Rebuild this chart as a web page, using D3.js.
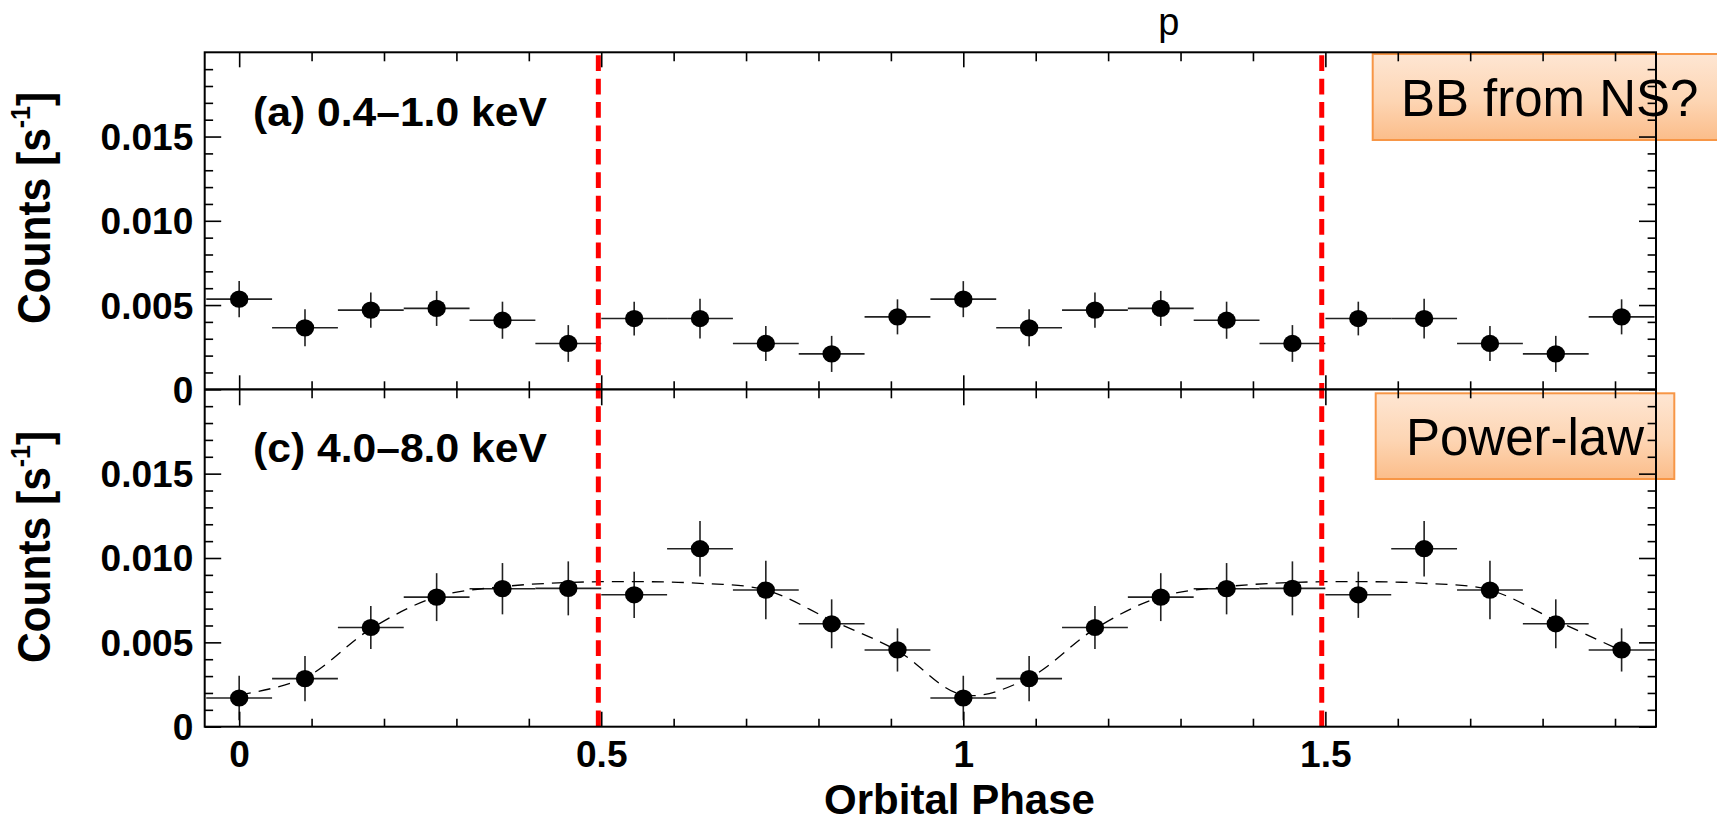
<!DOCTYPE html>
<html><head><meta charset="utf-8">
<script src="https://cdn.jsdelivr.net/npm/d3@7"></script>
<style>body{margin:0;background:#fff} svg{display:block}</style>
</head><body><svg id="c" width="1717" height="823"></svg>
<script>
// ---------------- data ----------------
const phases = [0, 0.0909, 0.1818, 0.2727, 0.3636, 0.4545, 0.5455, 0.6364, 0.7273, 0.8182, 0.9091,
                1.0, 1.0909, 1.1818, 1.2727, 1.3636, 1.4545, 1.5455, 1.6364, 1.7273, 1.8182, 1.9091];
const binHalfWidth = 0.04545;
const softRate = [0.00535, 0.00365, 0.0047, 0.0048, 0.0041, 0.00272, 0.0042, 0.0042, 0.00272, 0.0021, 0.0043,
                  0.00535, 0.00365, 0.0047, 0.0048, 0.0041, 0.00272, 0.0042, 0.0042, 0.00272, 0.0021, 0.0043];
const softErr  = [0.00107, 0.0011, 0.00104, 0.00104, 0.0011, 0.00109, 0.001, 0.00118, 0.00104, 0.00107, 0.00104,
                  0.00107, 0.0011, 0.00104, 0.00104, 0.0011, 0.00109, 0.001, 0.00118, 0.00104, 0.00107, 0.00104];
const hardRate = [0.0017, 0.00285, 0.00588, 0.00768, 0.00818, 0.0082, 0.00782, 0.01055, 0.0081, 0.0061, 0.00455,
                  0.0017, 0.00285, 0.00588, 0.00768, 0.00818, 0.0082, 0.00782, 0.01055, 0.0081, 0.0061, 0.00455];
const hardErr  = [0.00132, 0.00134, 0.00127, 0.00142, 0.00152, 0.0016, 0.00137, 0.00165, 0.00173, 0.00145, 0.00128,
                  0.00132, 0.00134, 0.00127, 0.00142, 0.00152, 0.0016, 0.00137, 0.00165, 0.00173, 0.00145, 0.00128];
const hardModel = [0.00188, 0.0029, 0.0058, 0.0077, 0.0083, 0.00855, 0.0086, 0.0085, 0.0081, 0.0063, 0.0045,
                   0.00188, 0.0029, 0.0058, 0.0077, 0.0083, 0.00855, 0.0086, 0.0085, 0.0081, 0.0063, 0.0045];
const markerPhases = [0.496, 1.495];
const yTickValues = [0, 0.005, 0.010, 0.015];
const yTickLabels = ["0", "0.005", "0.010", "0.015"];
const yMinorTicks = [0.001,0.002,0.003,0.004,0.006,0.007,0.008,0.009,0.011,0.012,0.013,0.014,0.016,0.017,0.018,0.019];
const xTickValues = [0, 0.5, 1, 1.5];
const xTickLabels = ["0", "0.5", "1", "1.5"];
const xMinorTicks = [0.1,0.2,0.3,0.4,0.6,0.7,0.8,0.9,1.1,1.2,1.3,1.4,1.6,1.7,1.8,1.9];
const panelLabels = ["(a) 0.4\u20131.0 keV", "(c) 4.0\u20138.0 keV"];
const boxLabels = ["BB from NS?", "Power-law"];
const xTitle = "Orbital Phase";
const topText = "p";

// ---------------- layout ----------------
const FONT = "'Liberation Sans', Arial, Helvetica, sans-serif";
const L = 204.7, R = 1656, T = 52.3, M = 389.3, B = 726.7;
const SX = 1.03; // slight horizontal stretch of tick labels

const svg = d3.select("#c");
const x = d3.scaleLinear().domain([-0.0476, 1.9566]).range([L, R]);
const yA = d3.scaleLinear().domain([0, 0.02]).range([M, T]);
const yC = d3.scaleLinear().domain([0, 0.02]).range([B, M]);

// gradient for annotation boxes
const defs = svg.append("defs");
const g = defs.append("linearGradient").attr("id", "boxg").attr("x1", 0).attr("y1", 0).attr("x2", 0).attr("y2", 1);
g.append("stop").attr("offset", "0%").attr("stop-color", "#fee6d3");
g.append("stop").attr("offset", "55%").attr("stop-color", "#fdd5b3");
g.append("stop").attr("offset", "100%").attr("stop-color", "#fbbd8a");

// annotation boxes (under the frame)
const boxes = [
  {x: 1372.7, y: 54, w: 354, h: 86, base: 116},
  {x: 1375.7, y: 393.3, w: 298.6, h: 85.7, base: 455}
];
boxes.forEach((b, i) => {
  svg.append("rect").attr("x", b.x).attr("y", b.y).attr("width", b.w).attr("height", b.h)
    .attr("fill", "url(#boxg)").attr("stroke", "#f79646").attr("stroke-width", 2);
  svg.append("text").attr("x", b.x + b.w / 2).attr("y", b.base).attr("text-anchor", "middle")
    .attr("font-family", FONT).attr("font-size", 51).attr("fill", "#000").text(boxLabels[i]);
});

// data panels
const panels = [
  {y: yA, rate: softRate, err: softErr},
  {y: yC, rate: hardRate, err: hardErr}
];
panels.forEach(p => {
  const gp = svg.append("g");
  phases.forEach((ph, i) => {
    gp.append("line").attr("x1", x(ph - binHalfWidth)).attr("x2", x(ph + binHalfWidth))
      .attr("y1", p.y(p.rate[i])).attr("y2", p.y(p.rate[i]))
      .attr("stroke", "#222").attr("stroke-width", 1.6);
    gp.append("line").attr("x1", x(ph)).attr("x2", x(ph))
      .attr("y1", p.y(p.rate[i] - p.err[i])).attr("y2", p.y(p.rate[i] + p.err[i]))
      .attr("stroke", "#222").attr("stroke-width", 1.6);
  });
  gp.selectAll("ellipse").data(phases).join("ellipse")
    .attr("cx", d => x(d)).attr("cy", (d, i) => p.y(p.rate[i]))
    .attr("rx", 9.2).attr("ry", 8.6).attr("fill", "#000");
});

// model curve in the hard band
const line = d3.line().x((d, i) => x(phases[i])).y(d => yC(d)).curve(d3.curveCatmullRom.alpha(0.5));
svg.append("path").attr("d", line(hardModel)).attr("fill", "none")
  .attr("stroke", "#000").attr("stroke-width", 1.3).attr("stroke-dasharray", "12,8");

// red dashed markers
markerPhases.forEach(m => {
  svg.append("line").attr("x1", x(m)).attr("x2", x(m)).attr("y1", T + 3).attr("y2", B + 3)
    .attr("stroke", "#ff0000").attr("stroke-width", 5).attr("stroke-dasharray", "15.7,7.7");
});

// axes
function addAxis(axisFn, scale, tx, ty, values, size, labels, pad) {
  const a = axisFn(scale).tickValues(values).tickSizeInner(-size).tickSizeOuter(0)
    .tickPadding(pad || 3).tickFormat(labels ? ((d, i) => labels[i]) : () => "");
  const ga = svg.append("g").attr("transform", `translate(${tx},${ty})`).call(a);
  ga.select(".domain").remove();
  ga.selectAll(".tick line").attr("stroke", "#000").attr("stroke-width", 1.6);
  ga.selectAll("text").attr("font-family", FONT).attr("font-weight", "bold")
    .attr("font-size", 36).attr("fill", "#000");
  return ga;
}
[yA, yC].forEach(ys => {
  const gl = addAxis(d3.axisLeft, ys, L, 0, yTickValues, 16.5, yTickLabels, 11.4);
  gl.selectAll("text").attr("x", -11.4 / SX).attr("dy", "0.36em").attr("transform", `scale(${SX},1)`);
  addAxis(d3.axisLeft, ys, L, 0, yMinorTicks, 8.4);
  addAxis(d3.axisRight, ys, R, 0, yTickValues, 17);
  addAxis(d3.axisRight, ys, R, 0, yMinorTicks, 8.4);
});
addAxis(d3.axisTop, x, 0, T, xTickValues, 15);
addAxis(d3.axisTop, x, 0, T, xMinorTicks, 9);
addAxis(d3.axisBottom, x, 0, M, xTickValues, 14);
addAxis(d3.axisBottom, x, 0, M, xMinorTicks, 8);
addAxis(d3.axisTop, x, 0, M, xTickValues, 16);
addAxis(d3.axisTop, x, 0, M, xMinorTicks, 9);
const gb = addAxis(d3.axisBottom, x, 0, B, xTickValues, 15, xTickLabels, 14.8);
gb.selectAll("text").attr("transform", `scale(${SX},1)`);
addAxis(d3.axisBottom, x, 0, B, xMinorTicks, 8);

// frame
svg.append("rect").attr("x", L).attr("y", T).attr("width", R - L).attr("height", B - T)
  .attr("fill", "none").attr("stroke", "#000").attr("stroke-width", 2);
svg.append("line").attr("x1", L).attr("x2", R).attr("y1", M).attr("y2", M)
  .attr("stroke", "#000").attr("stroke-width", 2.2);

// panel labels
[[253, 126], [253, 462]].forEach((pos, i) => {
  svg.append("text").attr("transform", `translate(${pos[0]},${pos[1]}) scale(1.04,1)`)
    .attr("font-family", FONT).attr("font-weight", "bold").attr("font-size", 41).attr("fill", "#000")
    .text(panelLabels[i]);
});

// y titles
[208, 547].forEach(cy => {
  const t = svg.append("text").attr("transform", `translate(50,${cy}) rotate(-90) scale(1,1.1)`)
    .attr("text-anchor", "middle").attr("font-family", FONT).attr("font-weight", "bold")
    .attr("font-size", 42.5).attr("fill", "#000");
  t.append("tspan").text("Counts [s");
  t.append("tspan").attr("font-size", 25).attr("dy", -18).text("-1");
  t.append("tspan").attr("dy", 18).text("]");
});

// x title
svg.append("text").attr("x", 959.5).attr("y", 814).attr("text-anchor", "middle")
  .attr("font-family", FONT).attr("font-weight", "bold").attr("font-size", 42).attr("fill", "#000")
  .text(xTitle);

// stray top text
svg.append("text").attr("x", 1168.8).attr("y", 35).attr("text-anchor", "middle")
  .attr("font-family", FONT).attr("font-size", 38).attr("fill", "#000").text(topText);
</script></body></html>
